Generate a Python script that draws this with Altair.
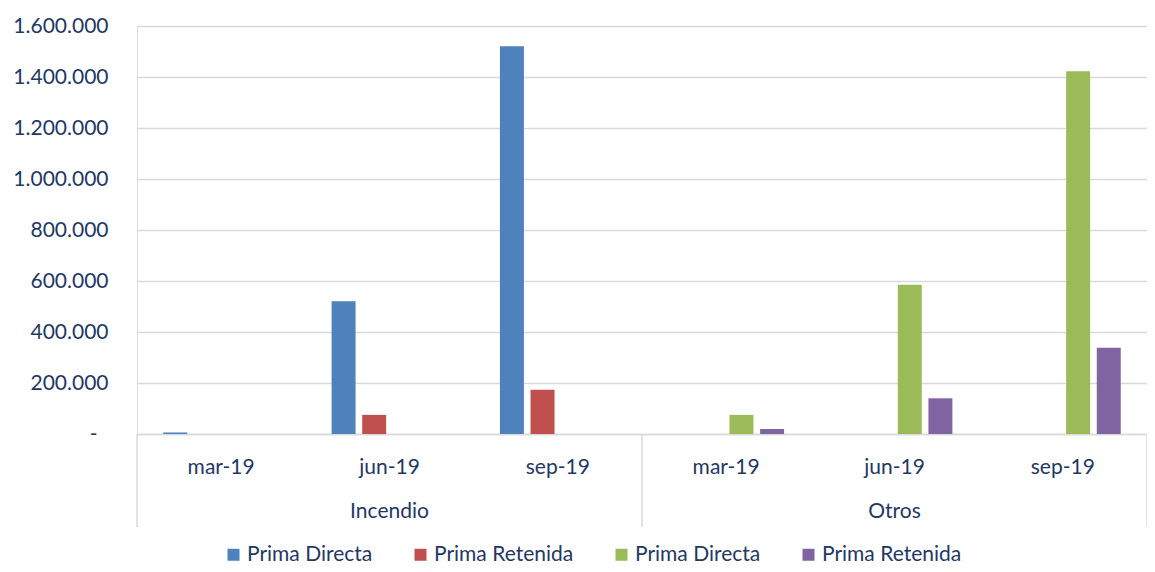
import altair as alt
import pandas as pd

# ---- data ----
groups = ["Incendio", "Otros"]
periods = ["mar-19", "jun-19", "sep-19"]
series_keys = [
    "Prima Directa (Incendio)",
    "Prima Retenida (Incendio)",
    "Prima Directa (Otros)",
    "Prima Retenida (Otros)",
]
colors = ["#4F81BD", "#C0504D", "#9BBB59", "#8064A2"]

incendio_directa = [6000, 521000, 1521000]
incendio_retenida = [0, 75000, 174000]
otros_directa = [75000, 585000, 1423000]
otros_retenida = [20000, 140000, 338000]

y_ticks = [0, 200000, 400000, 600000, 800000, 1000000, 1200000, 1400000, 1600000]

# ---- build table ----
cat_order = [f"{g}|{p}" for g in groups for p in periods]
rows = []
for i, p in enumerate(periods):
    rows.append({"cat": f"Incendio|{p}", "serie": series_keys[0], "valor": incendio_directa[i]})
    rows.append({"cat": f"Incendio|{p}", "serie": series_keys[1], "valor": incendio_retenida[i]})
    rows.append({"cat": f"Otros|{p}", "serie": series_keys[2], "valor": otros_directa[i]})
    rows.append({"cat": f"Otros|{p}", "serie": series_keys[3], "valor": otros_retenida[i]})
df = pd.DataFrame(rows)

FONT = "Lato"
TXT = "#1F3864"
GRID = "#D9D9D9"

x_scale = alt.Scale(domain=cat_order, paddingInner=0, paddingOuter=0)
x_axis = alt.Axis(
    title=None,
    labelExpr="split(datum.label, '|')[1]",
    labelAngle=0,
    ticks=False,
    tickSize=0,
    domain=True,
    domainColor=GRID,
    domainWidth=1.5,
    grid=False,
    labelPadding=22,
    labelFont=FONT,
    labelFontSize=21,
    labelColor=TXT,
    labelOverlap=False,
)

bars = alt.Chart(df).mark_bar().encode(
    x=alt.X("cat:N", sort=cat_order, scale=x_scale, axis=x_axis),
    xOffset=alt.XOffset(
        "serie:N",
        scale=alt.Scale(domain=series_keys, paddingInner=0.217, paddingOuter=0.858),
    ),
    y=alt.Y(
        "valor:Q",
        scale=alt.Scale(domain=[0, 1600000], nice=False),
        axis=alt.Axis(
            title=None,
            values=y_ticks,
            labelExpr="datum.value == 0 ? '-' : replace(format(datum.value, ','), regexp(',', 'g'), '.')",
            domain=False,
            ticks=False,
            tickSize=0,
            grid=True,
            gridColor=GRID,
            gridWidth=1.5,
            labelPadding={"condition": {"test": "datum.value == 0", "value": 40}, "value": 29},
            labelFont=FONT,
            labelFontSize=21,
            labelColor=TXT,
        ),
    ),
    color=alt.Color(
        "serie:N",
        scale=alt.Scale(domain=series_keys, range=colors),
        legend=alt.Legend(
            title=None,
            orient="none",
            direction="horizontal",
            legendX=86,
            legendY=518,
            symbolType="square",
            symbolSize=144,
            symbolStrokeWidth=0,
            symbolOpacity=1,
            labelExpr="split(datum.label, ' (')[0]",
            labelFont=FONT,
            labelFontSize=21,
            labelColor=TXT,
            labelOffset=3,
            columnPadding=37,
            labelLimit=300,
        ),
    ),
)

sep_df = pd.DataFrame({"cat": [f"{g}|{periods[0]}" for g in groups]})
end_df = pd.DataFrame({"cat": [f"{groups[-1]}|{periods[-1]}"]})

sep_left = alt.Chart(sep_df).mark_rule(color=GRID, strokeWidth=1.5).encode(
    x=alt.X("cat:N", sort=cat_order, scale=x_scale, bandPosition=0, axis=x_axis),
    y=alt.value(408),
    y2=alt.value(501),
)
sep_right = alt.Chart(end_df).mark_rule(color=GRID, strokeWidth=1.5).encode(
    x=alt.X("cat:N", sort=cat_order, scale=x_scale, bandPosition=1, axis=x_axis),
    y=alt.value(408),
    y2=alt.value(501),
)

grp_df = pd.DataFrame({"cat": [f"{g}|{periods[1]}" for g in groups], "grupo": groups})
grp_labels = alt.Chart(grp_df).mark_text(
    font=FONT, fontSize=21, color=TXT, baseline="middle", align="center"
).encode(
    x=alt.X("cat:N", sort=cat_order, scale=x_scale, bandPosition=0.5, axis=x_axis),
    y=alt.value(486),
    text="grupo:N",
)

chart = (
    alt.layer(bars, sep_left, sep_right, grp_labels)
    .properties(
        width=1010,
        height=408,
        autosize="none",
        padding={"left": 129, "top": 18, "right": 0, "bottom": 130},
    )
    .configure_view(stroke=None)
    .configure(background="white")
)

chart.save("out.html", embed_options={"renderer": "svg", "actions": False})
